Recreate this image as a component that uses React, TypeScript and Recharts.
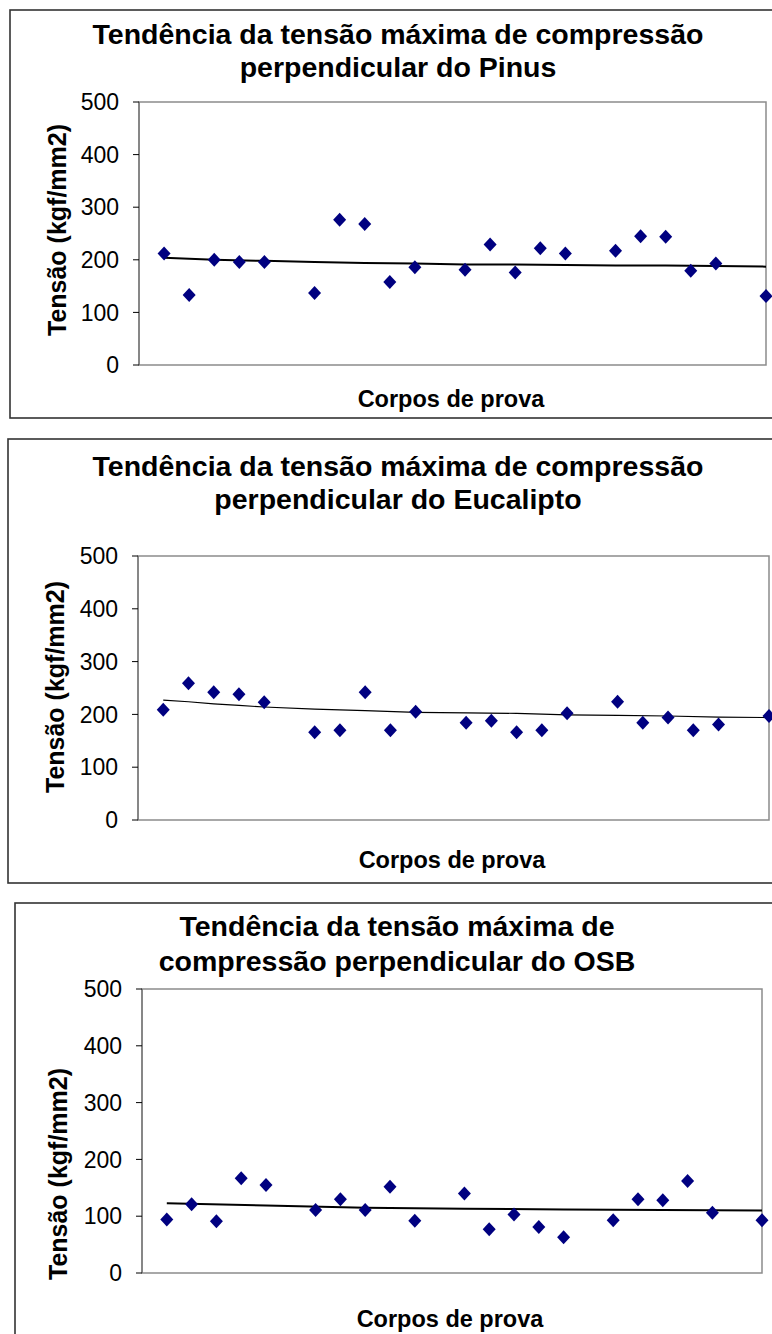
import React from "react";
import { ScatterChart, Scatter, XAxis, YAxis, ReferenceArea } from "recharts";

// Specimen positions (every 6th position is blank in the source sheet)
const specimens = [1, 2, 3, 4, 5, 7, 8, 9, 10, 11, 13, 14, 15, 16, 17, 19, 20, 21, 22, 23, 25];

const pinusValues = [212, 133, 200, 196, 196, 137, 276, 268, 158, 186, 181, 229, 176, 222, 212, 217, 245, 244, 179, 193, 131];
const eucaliptoValues = [209, 259, 242, 238, 223, 166, 170, 242, 170, 205, 184, 188, 166, 170, 202, 224, 184, 194, 170, 181, 197];
const osbValues = [94, 121, 91, 167, 155, 111, 130, 111, 152, 92, 140, 77, 103, 81, 63, 93, 130, 128, 162, 106, 93];

// Trend lines
const pinusTrendX = [1, 3, 5, 7, 9, 11, 13, 15, 17, 19, 21, 23, 25];
const pinusTrendY = [204, 200, 198, 196, 194, 193, 191, 191, 190, 189, 189, 188, 187];
const eucaliptoTrendX = [1, 2, 3, 4, 5, 7, 9, 11, 13, 15, 17, 19, 21, 23, 25];
const eucaliptoTrendY = [227, 224, 220, 217, 214, 210, 207, 204, 203, 202, 199, 198, 197, 195, 194];
const osbTrendX = [1, 5, 9, 13, 17, 21, 25];
const osbTrendY = [123, 119, 115, 113, 112, 111, 110];

const yTicks = [0, 100, 200, 300, 400, 500];

const yTitle = "Tensão (kgf/mm2)";
const xTitle = "Corpos de prova";
const titles = [
  ["Tendência da tensão máxima de compressão", "perpendicular do Pinus"],
  ["Tendência da tensão máxima de compressão", "perpendicular do Eucalipto"],
  ["Tendência da tensão máxima de", "compressão perpendicular do OSB"],
];

const FONT = '"Liberation Sans", Arial, Helvetica, sans-serif';
const NAVY = "#000080";

const Diamond = (props: any) => {
  const { cx, cy } = props;
  if (cx == null || cy == null) return <g />;
  return (
    <polygon
      points={`${cx},${cy - 7} ${cx + 6.5},${cy} ${cx},${cy + 7} ${cx - 6.5},${cy}`}
      fill={NAVY}
    />
  );
};

const NoShape = () => <g />;

type PanelProps = {
  top: number;
  height: number;
  plotTop: number;
  plotBottom: number;
  plotLeft: number;
  plotRight: number;
  values: number[];
  trendX: number[];
  trendY: number[];
  trendWidth: number;
};

const WIDTH = 800;

function Panel(p: PanelProps) {
  const pts = specimens.map((x, i) => ({ x, y: p.values[i] }));
  const trend = p.trendX.map((x, i) => ({ x, y: p.trendY[i] }));
  const yAxisW = 60;
  return (
    <div style={{ position: "absolute", left: 0, top: p.top }}>
      <ScatterChart
        width={WIDTH}
        height={p.height}
        margin={{
          top: p.plotTop - p.top,
          bottom: p.top + p.height - p.plotBottom,
          left: p.plotLeft - yAxisW,
          right: WIDTH - p.plotRight,
        }}
      >
        <XAxis type="number" dataKey="x" domain={[0, 25]} hide />
        <YAxis
          type="number"
          dataKey="y"
          domain={[0, 500]}
          ticks={yTicks}
          width={yAxisW}
          tickSize={6}
          tickMargin={14}
          axisLine={{ stroke: "#666", strokeWidth: 1 }}
          tickLine={{ stroke: "#000", strokeWidth: 1 }}
          tick={{ fill: "#000", fontSize: 23, fontFamily: FONT }}
          interval={0}
        />
        <ReferenceArea
          x1={0}
          x2={25}
          y1={0}
          y2={500}
          fill="none"
          stroke="#8c8c8c"
          strokeWidth={1.5}
          ifOverflow="visible"
        />
        <Scatter
          data={trend}
          line={{ stroke: "#000", strokeWidth: p.trendWidth }}
          shape={NoShape}
          isAnimationActive={false}
        />
        <Scatter data={pts} shape={Diamond} isAnimationActive={false} />
      </ScatterChart>
    </div>
  );
}

export default function App() {
  const boxes = [
    { x: 10, y: 10, h: 408 },
    { x: 8, y: 439, h: 444 },
    { x: 15, y: 903, h: 460 },
  ];
  const titleLayout = [
    { cx: 398, b1: 44, b2: 77 },
    { cx: 398, b1: 476, b2: 509 },
    { cx: 397, b1: 936, b2: 971 },
  ];
  const yTitleLayout = [
    { cx: 57, cy: 230 },
    { cx: 55, cy: 687 },
    { cx: 58, cy: 1174 },
  ];
  const xTitleLayout = [
    { cx: 451, b: 407 },
    { cx: 452, b: 868 },
    { cx: 450, b: 1327 },
  ];
  return (
    <div
      style={{
        position: "fixed",
        left: 0,
        top: 0,
        width: 772,
        height: 1334,
        overflow: "hidden",
        background: "#fff",
        fontFamily: FONT,
      }}
    >
      <svg
        width={772}
        height={1334}
        style={{ position: "absolute", left: 0, top: 0 }}
      >
        {boxes.map((b, i) => (
          <rect
            key={i}
            x={b.x}
            y={b.y}
            width={820}
            height={b.h}
            fill="none"
            stroke="#333"
            strokeWidth={1.6}
          />
        ))}
        {titles.map((t, i) => (
          <g key={i} fontFamily={FONT} fontWeight="bold" fontSize={28.5} textAnchor="middle" fill="#000">
            <text x={titleLayout[i].cx} y={titleLayout[i].b1}>{t[0]}</text>
            <text x={titleLayout[i].cx} y={titleLayout[i].b2}>{t[1]}</text>
          </g>
        ))}
        {yTitleLayout.map((l, i) => (
          <text
            key={i}
            x={0}
            y={0}
            transform={`translate(${l.cx},${l.cy}) rotate(-90)`}
            textAnchor="middle"
            dominantBaseline="central"
            fontFamily={FONT}
            fontWeight="bold"
            fontSize={25}
            fill="#000"
          >
            {yTitle}
          </text>
        ))}
        {xTitleLayout.map((l, i) => (
          <text
            key={i}
            x={l.cx}
            y={l.b}
            textAnchor="middle"
            fontFamily={FONT}
            fontWeight="bold"
            fontSize={23.5}
            fill="#000"
          >
            {xTitle}
          </text>
        ))}
      </svg>
      <Panel
        top={0}
        height={420}
        plotTop={102}
        plotBottom={365}
        plotLeft={139}
        plotRight={766}
        values={pinusValues}
        trendX={pinusTrendX}
        trendY={pinusTrendY}
        trendWidth={2}
      />
      <Panel
        top={430}
        height={430}
        plotTop={556}
        plotBottom={820}
        plotLeft={138}
        plotRight={769}
        values={eucaliptoValues}
        trendX={eucaliptoTrendX}
        trendY={eucaliptoTrendY}
        trendWidth={1.2}
      />
      <Panel
        top={900}
        height={434}
        plotTop={989}
        plotBottom={1273}
        plotLeft={142}
        plotRight={762}
        values={osbValues}
        trendX={osbTrendX}
        trendY={osbTrendY}
        trendWidth={2}
      />
    </div>
  );
}
